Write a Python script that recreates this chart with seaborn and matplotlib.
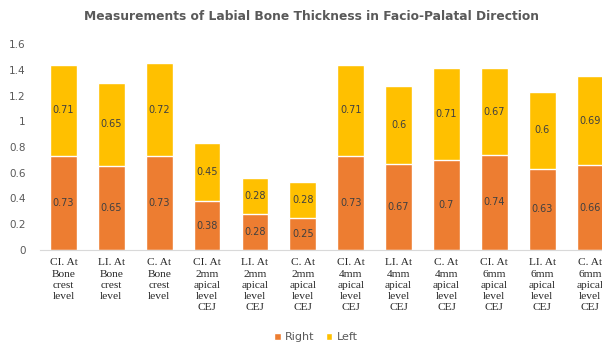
import matplotlib
matplotlib.use("Agg")
import matplotlib.pyplot as plt
from matplotlib.patches import Patch
import seaborn as sns
import pandas as pd

# Measurement sites (wrapped the way the axis shows them)
categories = [
    "CI. At\nBone\ncrest\nlevel",
    "LI. At\nBone\ncrest\nlevel",
    "C. At\nBone\ncrest\nlevel",
    "CI. At\n2mm\napical\nlevel\nCEJ",
    "LI. At\n2mm\napical\nlevel\nCEJ",
    "C. At\n2mm\napical\nlevel\nCEJ",
    "CI. At\n4mm\napical\nlevel\nCEJ",
    "LI. At\n4mm\napical\nlevel\nCEJ",
    "C. At\n4mm\napical\nlevel\nCEJ",
    "CI. At\n6mm\napical\nlevel\nCEJ",
    "LI. At\n6mm\napical\nlevel\nCEJ",
    "C. At\n6mm\napical\nlevel\nCEJ",
]
right_vals = [0.73, 0.65, 0.73, 0.38, 0.28, 0.25, 0.73, 0.67, 0.70, 0.74, 0.63, 0.66]
left_vals = [0.71, 0.65, 0.72, 0.45, 0.28, 0.28, 0.71, 0.60, 0.71, 0.67, 0.60, 0.69]
y_ticks = [0, 0.2, 0.4, 0.6, 0.8, 1.0, 1.2, 1.4, 1.6]
y_tick_labels = ["0", "0.2", "0.4", "0.6", "0.8", "1", "1.2", "1.4", "1.6"]

RIGHT_COLOR = "#ED7D31"
LEFT_COLOR = "#FFC000"
TEXT_GRAY = "#595959"

df = pd.DataFrame({
    "site": categories,
    "Right": right_vals,
    "Left": left_vals,
})
df["Total"] = df["Right"] + df["Left"]

sns.set_theme(style="white")
plt.rcParams["font.family"] = ["DejaVu Sans"]

fig = plt.figure(figsize=(6.02, 3.43), dpi=100)
ax = fig.add_axes([39.5 / 602, 93 / 343, 574.5 / 602, 206 / 343])

order = list(df["site"])
# stacked bars: full height in yellow, the Right part drawn over it in orange
sns.barplot(data=df, x="site", y="Total", order=order, color=LEFT_COLOR,
            saturation=1, width=0.56, ax=ax)
sns.barplot(data=df, x="site", y="Right", order=order, color=RIGHT_COLOR,
            saturation=1, width=0.56, ax=ax)

for i, (r, l) in enumerate(zip(df["Right"], df["Left"])):
    ax.text(i, r / 2, f"{r:g}", ha="center", va="center", fontsize=7,
            color="#404040")
    ax.text(i, r + l / 2, f"{l:g}", ha="center", va="center", fontsize=7,
            color="#404040")

ax.set_xlim(-0.5, len(categories) - 0.5)
ax.set_ylim(0, 1.6)
ax.set_yticks(y_ticks)
ax.set_yticklabels(y_tick_labels)
ax.set_xlabel("")
ax.set_ylabel("")
ax.tick_params(axis="y", length=0, labelsize=7.5, labelcolor=TEXT_GRAY, pad=10)
ax.tick_params(axis="x", length=0, pad=6)
for lab in ax.get_xticklabels():
    lab.set_fontfamily("Liberation Serif")
    lab.set_fontsize(8.2)
    lab.set_linespacing(1.32)
    lab.set_color("#262626")
    lab.set_verticalalignment("top")

for side in ["top", "right", "left"]:
    ax.spines[side].set_visible(False)
ax.spines["bottom"].set_color("#D9D9D9")
ax.spines["bottom"].set_linewidth(0.8)

fig.text(311 / 602, 1 - 17 / 343,
         "Measurements of Labial Bone Thickness in Facio-Palatal Direction",
         ha="center", va="center", fontsize=8.8, fontweight="bold",
         color=TEXT_GRAY)

handles = [Patch(facecolor=RIGHT_COLOR, label="Right"),
           Patch(facecolor=LEFT_COLOR, label="Left")]
fig.legend(handles=handles, loc="center", bbox_to_anchor=(316 / 602, 1 - 337 / 343),
           ncol=2, frameon=False, fontsize=8, handlelength=0.6, handleheight=0.6,
           handletextpad=0.4, columnspacing=1.0, labelcolor=TEXT_GRAY)

fig.savefig("out.png", dpi=100)
